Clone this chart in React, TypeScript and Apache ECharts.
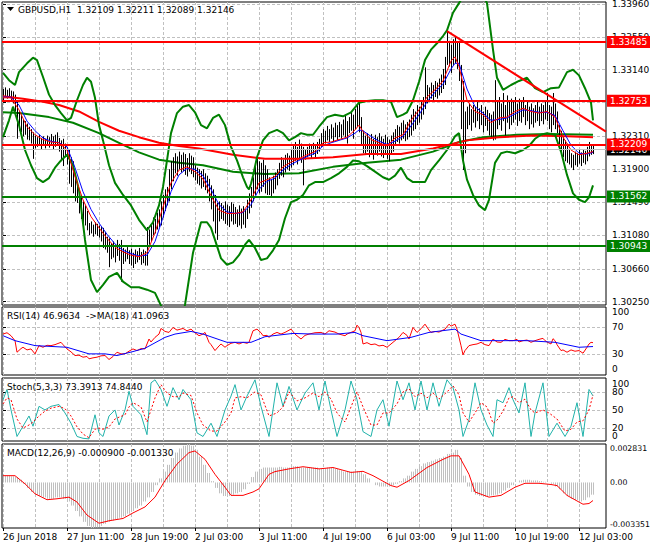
import React, { useEffect, useRef } from "react";
import * as echarts from "echarts";

const FONT = "DejaVu Sans";
const FS = 9;
const RED = "#FF0000";
const GREEN = "#008000";
const BLUE = "#0000FF";
const TEAL = "#20B2AA";
const GRID_C = "#C0C0C0";

// ---- axes / ticks ----
const X_LABEL_POS = [0, 32, 64, 96, 128, 160, 192, 224, 256, 288];
const X_LABEL_TEXT = ["26 Jun 2018", "27 Jun 11:00", "28 Jun 19:00", "2 Jul 03:00", "3 Jul 11:00", "4 Jul 19:00", "6 Jul 03:00", "9 Jul 11:00", "10 Jul 19:00", "12 Jul 03:00"];
const X_GRID = [0, 16, 32, 48, 64, 80, 96, 112, 128, 144, 160, 176, 192, 208, 224, 240, 256, 272, 288];
const PRICE_TICKS = [1.3025, 1.3066, 1.3108, 1.3149, 1.319, 1.3231, 1.3273, 1.3314, 1.3355, 1.3396];
const OSC_MIN = [0];
const OSC_MAX = [100];
const RSI_LEVELS = [30, 70];
const STO_LEVELS = [20, 50, 80];
const MACD_LABELS = [-0.003351, 0, 0.002831];

// ---- levels ----
const SR_RED = [1.33485, 1.32753, 1.32209];
const SR_GREEN = [1.31562, 1.30943];
const BID = 1.32146;
const TREND = [[222, 1.3362], [301.5, 1.3237]];

// ---- H1 bars, pips above 1.3000 (index 0 = 26 Jun 03:00) ----
const HIGH_PIPS = [
  290, 292, 289, 291, 288, 287, 283, 276, 262, 258,
  252, 250, 247, 243, 240, 236, 232, 230, 233, 229,
  231, 228, 232, 230, 234, 231, 233, 236, 229, 226,
  228, 222, 218, 214, 205, 200, 185, 170, 164, 158,
  150, 145, 138, 123, 125, 121, 124, 122, 120, 118,
  117, 112, 106, 104, 98, 100, 96, 102, 97, 102,
  92, 90, 93, 89, 91, 86, 90, 88, 92, 87,
  90, 88, 118, 115, 122, 130, 128, 136, 140, 150,
  158, 165, 168, 190, 200, 205, 210, 206, 212, 208,
  211, 209, 204, 210, 207, 205, 195, 192, 190, 188,
  190, 185, 182, 178, 170, 165, 158, 148, 150, 148,
  145, 150, 146, 144, 149, 147, 143, 140, 145, 141,
  144, 140, 152, 160, 168, 180, 195, 205, 200, 198,
  202, 195, 190, 180, 178, 182, 186, 190, 198, 205,
  202, 208, 210, 207, 215, 220, 224, 218, 227, 222,
  218, 215, 218, 222, 220, 223, 219, 224, 228, 235,
  240, 238, 244, 240, 246, 242, 248, 245, 249, 246,
  252, 258, 250, 255, 262, 258, 265, 270, 274, 255,
  238, 232, 235, 230, 234, 228, 233, 230, 235, 231,
  228, 233, 230, 227, 232, 236, 240, 245, 243, 248,
  251, 246, 249, 252, 258, 265, 262, 270, 268, 275,
  280, 317, 295, 292, 298, 295, 300, 298, 303, 308,
  315, 330, 361, 350, 345, 352, 355, 348, 350, 320,
  300, 262, 268, 272, 265, 270, 268, 274, 266, 270,
  262, 268, 264, 260, 258, 262, 301, 275, 280, 272,
  285, 270, 282, 276, 278, 275, 280, 272, 278, 274,
  280, 270, 276, 268, 272, 266, 270, 275, 268, 272,
  270, 274, 285, 270, 268, 285, 272, 262, 245, 238,
  230, 226, 222, 214, 210, 208, 212, 210, 214, 211,
  215, 213, 218, 224, 220, 221.1
];
const LOW_PIPS = [
  276, 280, 278, 279, 275, 272, 262, 228, 238, 236,
  231, 233, 227, 226, 222, 203, 216, 218, 219, 215,
  219, 216, 220, 217, 219, 214, 218, 220, 212, 200,
  194, 205, 196, 172, 168, 160, 150, 148, 135, 128,
  118, 120, 114, 108, 110, 106, 109, 107, 105, 100,
  92, 90, 86, 68, 78, 80, 74, 82, 76, 50,
  72, 75, 78, 72, 70, 67, 72, 74, 77, 71,
  73, 70, 70, 96, 100, 108, 110, 115, 118, 120,
  130, 138, 145, 150, 165, 175, 185, 182, 190, 186,
  188, 183, 181, 187, 184, 180, 176, 172, 170, 166,
  168, 164, 160, 150, 140, 125, 110, 102, 125, 128,
  126, 122, 120, 118, 125, 121, 122, 118, 120, 116,
  121, 117, 128, 135, 142, 150, 158, 165, 160, 162,
  168, 160, 158, 158, 155, 160, 165, 170, 178, 182,
  180, 186, 190, 188, 192, 195, 200, 196, 202, 198,
  170, 202, 205, 207, 204, 208, 205, 209, 212, 218,
  220, 222, 226, 224, 228, 224, 230, 226, 230, 228,
  232, 230, 222, 235, 238, 228, 240, 243, 236, 220,
  210, 208, 212, 205, 210, 202, 208, 207, 212, 206,
  204, 209, 203, 200, 208, 212, 220, 224, 222, 226,
  228, 225, 227, 230, 232, 238, 240, 245, 248, 252,
  258, 265, 272, 276, 278, 275, 280, 278, 282, 285,
  290, 295, 320, 318, 310, 320, 322, 315, 300, 240,
  189, 210, 240, 245, 238, 248, 242, 250, 240, 245,
  236, 244, 238, 232, 230, 226, 227, 240, 245, 238,
  250, 232, 248, 240, 245, 248, 252, 244, 250, 248,
  255, 245, 250, 240, 246, 242, 248, 250, 244, 250,
  246, 252, 250, 240, 236, 245, 240, 235, 220, 210,
  205, 200, 198, 196, 192, 189, 195, 193, 197, 194,
  198, 196, 200, 206, 208, 208.9
];

// ---- indicator lines on the price pane, [bar index, pips above 1.3000] ----
const BB_UPPER = [[0,310],[3,301],[6,295],[8,311],[12,322],[15,329],[17,326],[20,305],[23,283],[26,270],[29,260],[32,251],[34,254],[37,276],[40,295],[42,304],[44,299],[46,279],[48,245],[50,226],[53,195],[56,173],[60,158],[64,145],[68,127],[72,114],[75,124],[78,145],[80,168],[82,201],[84,235],[87,260],[90,268],[93,270],[96,261],[99,245],[102,241],[105,254],[108,258],[111,245],[114,218],[117,201],[120,180],[122,168],[123,165],[124,172],[125,182],[127,205],[130,226],[133,235],[137,239],[140,235],[143,226],[146,230],[149,235],[152,233],[155,233],[158,243],[162,255],[166,258],[170,256],[174,261],[178,273],[182,275],[186,276],[190,276],[194,274],[197,255],[200,258],[202,261],[205,276],[208,299],[211,326],[214,339],[217,347],[220,356],[222,363],[225,385],[228,397],[232,413],[236,420],[240,407],[242,397],[245,339],[247,304],[250,289],[254,295],[258,300],[262,304],[266,291],[270,286],[274,291],[278,292],[282,311],[285,314],[288,307],[291,291],[294,273],[295,251]];
const BB_LOWER = [[0,230],[3,251],[5,268],[8,245],[11,214],[14,195],[17,179],[20,174],[23,179],[26,192],[29,201],[32,208],[35,195],[38,164],[41,102],[44,52],[47,37],[50,46],[53,56],[57,61],[60,50],[64,43],[68,43],[72,40],[76,36],[80,15],[84,-4],[88,-4],[91,21],[95,86],[99,124],[102,124],[104,117],[106,102],[109,79],[112,71],[115,74],[118,83],[121,96],[123,102],[126,92],[129,77],[132,79],[135,89],[138,102],[141,129],[144,149],[147,152],[150,158],[153,170],[156,174],[160,174],[164,179],[168,185],[172,193],[175,201],[178,200],[182,194],[186,187],[190,180],[193,177],[196,182],[199,192],[202,179],[205,174],[208,174],[211,174],[214,189],[218,201],[222,214],[226,231],[228,235],[230,201],[232,177],[235,158],[238,145],[241,139],[243,152],[246,198],[249,210],[252,212],[256,210],[260,214],[263,219],[266,228],[269,233],[272,235],[276,233],[279,212],[282,183],[285,160],[288,152],[291,149],[293,155],[295,170]];
const MA_SLOW_RED = [[0,281],[10,278],[20,274],[28,270],[38,262],[48,249],[58,238],[68,230],[78,223],[88,219],[98,216],[115,208],[131,203],[148,203],[165,205],[182,209],[199,209],[215,216],[232,226],[248,230],[265,232],[282,231],[295,230]];
const MA_SLOW_GREEN = [[0,261],[8,260],[23,255],[35,248],[48,235],[58,223],[68,211],[78,202],[88,198],[100,195],[115,187],[131,184],[148,185],[165,193],[182,198],[199,202],[215,212],[228,224],[240,230],[257,233],[273,234],[295,233]];
const MA_FAST = [[0,279],[4,279],[8,264],[12,243],[16,233],[20,227],[24,224],[28,223],[32,214],[36,181],[40,152],[44,131],[48,117],[52,104],[56,93],[60,87],[64,83],[68,81],[72,86],[76,111],[80,143],[84,173],[88,189],[92,193],[96,187],[100,178],[104,157],[108,139],[112,135],[116,135],[120,137],[124,152],[128,173],[132,177],[136,181],[140,193],[144,199],[148,203],[152,208],[156,212],[160,223],[164,224],[168,227],[172,230],[176,239],[178,245],[180,237],[184,227],[188,223],[192,219],[196,229],[200,233],[204,251],[208,264],[212,280],[216,289],[220,300],[224,325],[226,330],[228,318],[232,276],[236,262],[240,258],[244,248],[248,254],[252,255],[256,262],[260,266],[264,262],[268,260],[272,262],[276,255],[280,230],[284,214],[288,208],[292,210],[295,212]];
const MA_MID = [[0,280],[4,280],[8,270],[12,250],[16,238],[20,229],[24,225],[28,223],[32,218],[36,192],[40,162],[44,140],[48,123],[52,109],[56,97],[60,89],[64,85],[68,82],[72,83],[76,100],[80,130],[84,162],[88,183],[92,191],[96,190],[100,182],[104,165],[108,146],[112,137],[116,135],[120,136],[124,146],[128,165],[132,175],[136,179],[140,189],[144,196],[148,201],[152,206],[156,210],[160,219],[164,223],[168,226],[172,229],[176,235],[178,239],[180,238],[184,231],[188,225],[192,221],[196,225],[200,231],[204,244],[208,258],[212,274],[216,286],[220,296],[224,315],[226,322],[228,322],[232,290],[236,268],[240,260],[244,251],[248,252],[252,254],[256,259],[260,264],[264,263],[268,261],[272,261],[276,257],[280,238],[284,220],[288,210],[292,209],[295,211]];

// ---- RSI(14) and its MA(18) ----
const RSI = [[0,60],[2,62],[4,57.5],[6,50],[7,32.5],[9,38],[10,40],[12,36],[14,37.5],[16,30],[18,42.5],[20,40],[22,43],[24,42.5],[26,44],[29,47.5],[30,44],[32,37.5],[34,33],[36,27.5],[38,28],[40,25],[42,26],[43,22.5],[45,24],[47,25],[49,27],[51,27.5],[53,21.5],[55,26],[57,32.5],[59,30],[61,30],[63,34],[65,37.5],[67,35],[69,38],[71,37.5],[73,52.5],[74,48],[76,55],[78,60],[79,68.5],[81,64],[83,62.5],[85,70],[87,66],[90,68.5],[92,65],[94,67.5],[96,62],[98,57.5],[100,60],[101,62.5],[103,47.5],[104,44],[106,35],[108,42],[109,45],[111,40],[112,42.5],[114,46],[116,47.5],[118,45],[120,47.5],[122,46],[123,47.5],[125,65],[127,67.5],[129,62],[130,57.5],[132,58],[133,55],[135,60],[137,62.5],[139,60],[141,62.5],[144,67.5],[146,60],[149,52.5],[151,58],[153,60],[156,62],[159,62.5],[161,60],[163,65],[166,63],[168,60],[171,57.5],[172,60],[174,62.5],[176,65],[177,73.5],[178,70],[179,62.5],[180,45],[182,47],[184,44],[186,45],[188,42],[190,43],[192,40],[194,45],[196,50],[198,55],[200,62.5],[202,58],[203,52.5],[205,70],[207,62.5],[209,68],[211,75],[213,66],[214,62.5],[216,64],[218,63],[221,67.5],[223,75],[224,72],[226,75],[227,67.5],[229,42.5],[230,28.5],[231,35],[233,42.5],[235,44],[237,45],[239,47.5],[241,44],[243,42.5],[245,52.5],[247,48],[249,47.5],[251,52],[253,50],[255,50],[257,52],[258,48],[260,50],[262,51],[264,47.5],[266,50],[268,52],[270,53.5],[271,50],[272,48],[274,45],[275,53],[276,50],[277,44],[279,35],[280,36],[282,32.5],[284,36],[286,34],[288,35],[290,31],[292,40],[293,45],[294,47.5],[295,46.96]];
const RSI_MA = [[0,57.5],[6,50],[16,42.5],[32,40],[43,30],[51,30],[57,27.5],[65,33.5],[71,38.5],[81,55],[86,60],[94,64],[100,60],[112,47.5],[124,47.5],[131,56],[145,61],[155,60],[167,60],[176,62.5],[180,57.5],[192,50],[204,55],[213,62.5],[226,67.5],[229,60],[239,50],[251,50],[262,50],[276,47.5],[288,40],[295,41.1]];

// ---- Stochastic(5,3,3) ----
const STOCH_MAIN = [[0,67],[2,84],[4,50],[7,6],[10,23],[13,40],[15,23],[18,56],[21,50],[24,56],[28,59],[31,45],[34,28],[37,6],[40,3],[43,2],[46,42],[48,12],[50,6],[53,40],[56,50],[58,25],[61,50],[63,81],[65,56],[69,42],[72,9],[74,95],[76,100],[79,84],[82,56],[85,87],[88,67],[90,84],[94,67],[97,12],[100,6],[104,28],[107,6],[111,50],[114,73],[116,92],[119,50],[122,73],[126,100],[129,56],[133,6],[137,95],[140,56],[143,89],[147,50],[151,78],[155,95],[158,50],[161,98],[164,50],[167,6],[171,50],[174,98],[177,67],[180,14],[184,6],[187,50],[190,67],[193,23],[197,98],[200,67],[203,95],[206,50],[209,98],[212,50],[215,95],[218,56],[222,100],[225,87],[228,50],[230,6],[233,34],[236,95],[239,50],[242,25],[245,6],[247,67],[250,62],[253,87],[255,67],[258,45],[261,95],[264,6],[266,45],[270,95],[273,6],[277,28],[281,6],[284,23],[287,62],[290,6],[293,84],[295,73.39]];
const STOCH_SIGNAL = [[0,60],[2,70],[4,67],[7,35],[10,20],[13,25],[15,30],[18,40],[21,48],[24,53],[28,56],[31,52],[34,40],[37,22],[40,10],[43,4],[46,18],[48,20],[50,18],[53,22],[56,35],[58,38],[61,42],[63,55],[65,62],[69,55],[72,30],[74,50],[76,70],[79,92],[82,78],[85,72],[88,72],[90,78],[94,74],[97,45],[100,25],[104,15],[107,15],[111,30],[114,45],[116,70],[119,72],[122,70],[126,80],[129,75],[133,40],[137,45],[140,55],[143,80],[147,65],[151,70],[155,78],[158,72],[161,80],[164,68],[167,45],[171,30],[174,55],[177,80],[180,55],[184,25],[187,25],[190,45],[193,45],[197,60],[200,80],[203,85],[206,72],[209,78],[212,70],[215,78],[218,68],[222,80],[225,90],[228,75],[230,45],[233,30],[236,45],[239,62],[242,55],[245,28],[247,33],[250,48],[253,70],[255,72],[258,62],[261,68],[264,50],[266,45],[270,50],[273,45],[277,35],[281,15],[284,18],[287,30],[290,32],[293,50],[295,74.84]];

// ---- MACD(12,26,9): main histogram every 2 bars, in 1e-4 ----
const MACD_STEP = 2;
const MACD_HIST = [
  5, 5, 4.5, 4, 2, -1, -4, -7, -9, -10,
  -11, -12, -12, -11, -11, -12, -14, -17, -21, -25,
  -29, -32, -33.5, -33, -32, -30.5, -29, -28, -27, -26,
  -25, -23, -21, -19, -17, -14, -11, -7, -2, 3,
  8, 13, 18, 22, 25, 27, 28.3, 27, 24, 19,
  13, 7, 1, -4, -8, -10, -10, -9, -8, -7,
  -5, -1, 4, 8, 10, 11, 11, 11, 11, 11.5,
  11, 11, 12, 12, 11, 11, 11, 11, 11, 10,
  10.5, 11, 11, 10, 9, 8, 8, 8, 8.5, 8,
  6, 3, 0, -2, -3, -3, -3, -2, -1, 1,
  3, 5, 8, 10, 12, 14, 15, 16, 17, 18,
  19, 21, 22, 24, 18, 5, -3, -7, -9, -10,
  -10.5, -10, -9.5, -9, -8, -6, -4, -2, 0, 1.5,
  2, 2, 1.5, 1.5, 1, 0.5, 0, -1, -3, -5,
  -8, -10, -12, -13, -14, -13, -11, -9
];
const MACD_SIGNAL = [[0,5],[6,5],[11,-1],[16,-8.3],[22,-12.7],[27,-12],[33,-10.8],[37,-14.4],[42,-24],[48,-30],[53,-28.2],[60,-26.5],[65,-22.4],[71,-18],[76,-10.8],[81,1.4],[87,13.5],[93,22],[96,23.2],[101,17],[106,6],[111,-3.5],[114,-9.5],[120,-9.5],[125,-7],[128,-4.7],[133,6],[136,8],[143,10],[150,11.6],[158,10],[165,11],[174,7.4],[180,8.2],[185,5],[194,-2.3],[197,-3.5],[203,1.4],[212,11],[220,17],[224,19.6],[228,19.6],[233,6],[236,-7],[243,-10.8],[249,-9.5],[256,-3.5],[261,-0.6],[268,-0.6],[274,-1.5],[277,-2.3],[282,-9.5],[288,-14.4],[290,-16],[293,-15.5],[295,-13.3]];

const TITLE_MAIN = "GBPUSD,H1  1.32109 1.32211 1.32089 1.32146";
const TITLE_RSI = "RSI(14) 46.9634  ->MA(18) 41.0963";
const TITLE_STO = "Stoch(5,3,3) 73.3913 74.8440";
const TITLE_MACD = "MACD(12,26,9) -0.000900 -0.001330";

const toPrice = (p: number) => Math.round((1.3 + p / 10000) * 1e6) / 1e6;
const pipsLine = (arr: number[][]) => arr.map(([i, p]) => [i, toPrice(p)]);

const RSI_MIN = -2, RSI_MAX = 101;
const STO_MIN = -1.5, STO_MAX = 103;

function tText(id: string, x: number, y: number, text: string, vAlign: string = "middle") {
  return {
    id, type: "text", x, y, z: 100, silent: true,
    style: { text, fill: "#000", fontFamily: FONT, fontSize: FS, verticalAlign: vAlign, align: "left" },
  };
}

function buildOption() {
  const txt = { color: "#000", fontFamily: FONT, fontSize: FS };
  const dashed = { show: true, lineStyle: { color: GRID_C, width: 1, type: [3, 2] } };
  const X_MIN = -0.5, X_MAX = 301.5;

  const grids = [
    { top: 2, height: 303 },
    { top: 307, height: 68 },
    { top: 378, height: 63 },
    { top: 444, height: 84 },
  ].map((g) => ({
    ...g, left: 2, right: 44, show: true, borderColor: "#000", borderWidth: 1,
    backgroundColor: "#fff", containLabel: false, outerBoundsMode: "none",
  }));

  const xAxes: any[] = [0, 1, 2, 3].map((gi) => ({
    type: "value", gridIndex: gi, min: X_MIN, max: X_MAX,
    axisLine: { show: false },
    axisTick: { show: false, customValues: X_GRID },
    splitLine: dashed,
    axisLabel: gi === 3
      ? { ...txt, show: true, customValues: X_LABEL_POS, align: "left", margin: 4,
          formatter: (v: number) => { const k = X_LABEL_POS.indexOf(Math.round(v)); return k >= 0 ? X_LABEL_TEXT[k] : ""; } }
      : { show: false },
  }));
  // small tick marks under the time labels
  xAxes.push({
    type: "value", gridIndex: 3, min: X_MIN, max: X_MAX, position: "bottom",
    axisLine: { show: false }, splitLine: { show: false }, axisLabel: { show: false },
    axisTick: { show: true, customValues: X_LABEL_POS, length: 3, lineStyle: { color: "#000" } },
  });

  const yBase = (gi: number, min: number, max: number, labels: number[], ticks: number[], fmt: (v: number) => string, grid: boolean, vAlign: any, fs: number = FS, margin: number = 6) => ({
    type: "value", gridIndex: gi, position: "right", min, max,
    axisLine: { show: false },
    axisTick: { show: ticks.length > 0, customValues: ticks, length: 3, lineStyle: { color: "#000" } },
    axisLabel: { ...txt, fontSize: fs, customValues: labels, margin, formatter: fmt,
      showMinLabel: true, showMaxLabel: true, hideOverlap: false,
      ...(vAlign === "edges" ? { verticalAlignMinLabel: "bottom", verticalAlignMaxLabel: "top" } : vAlign ? { verticalAlign: vAlign } : {}) },
    splitLine: grid ? dashed : { show: false },
  });

  const num = (v: number) => String(Math.round(v));
  const yAxes = [
    yBase(0, 1.30209, 1.33984, PRICE_TICKS, PRICE_TICKS, (v) => v.toFixed(5), true, null),
    yBase(1, RSI_MIN, RSI_MAX, RSI_LEVELS, RSI_LEVELS, num, true, null),
    yBase(2, STO_MIN, STO_MAX, STO_LEVELS, STO_LEVELS, num, true, null),
    yBase(3, -0.003351, 0.002831, MACD_LABELS, [], (v) => (Math.abs(v) < 1e-9 ? "0.00" : v.toFixed(6)), false, "edges", 7.8, 4),
    // fixed 100 / 0 bounds of the oscillator windows (RSI 0 is placed after init)
    yBase(1, RSI_MIN, RSI_MAX, OSC_MAX, [], num, false, "top"),
    yBase(2, STO_MIN, STO_MAX, OSC_MAX, [], num, false, "top"),
    yBase(2, STO_MIN, STO_MAX, OSC_MIN, [], num, false, "bottom"),
  ];

  const line = (data: any[], color: string, width: number, gi: number, extra: any = {}) => ({
    type: "line", data, xAxisIndex: gi, yAxisIndex: gi, showSymbol: false, symbol: "none",
    silent: true, animation: false, lineStyle: { color, width }, itemStyle: { color }, z: 3, ...extra,
  });

  const lvlLabel = (value: number, bg: string) => ({
    show: true, position: "end", formatter: value.toFixed(5), color: "#fff", backgroundColor: bg,
    padding: [2, 3, 1, 3], fontFamily: FONT, fontSize: FS, distance: 1,
  });

  const bars = {
    type: "custom", xAxisIndex: 0, yAxisIndex: 0, silent: true, animation: false, z: 2,
    data: HIGH_PIPS.map((h, i) => [i, toPrice(h), toPrice(LOW_PIPS[i])]),
    encode: { x: 0, y: [1, 2] },
    renderItem: (params: any, api: any) => {
      const i = api.value(0);
      const a = api.coord([i, api.value(1)]);
      const b = api.coord([i, api.value(2)]);
      const x = Math.round(a[0]) + 0.5;
      return { type: "line", shape: { x1: x, y1: a[1], x2: x, y2: b[1] }, style: { stroke: "#000", lineWidth: 1 } };
    },
  };

  const hist = {
    type: "custom", xAxisIndex: 3, yAxisIndex: 3, silent: true, animation: false, z: 2,
    data: MACD_HIST.map((v, k) => [k * MACD_STEP, v / 10000]),
    encode: { x: 0, y: 1 },
    renderItem: (params: any, api: any) => {
      const i = api.value(0);
      const p0 = api.coord([i, 0]);
      const p1 = api.coord([i, api.value(1)]);
      const x = Math.round(p0[0]) + 0.5;
      const st = { stroke: GRID_C, lineWidth: 1 };
      return { type: "group", children: [
        { type: "line", shape: { x1: x, y1: p0[1], x2: x, y2: p1[1] }, style: st },
        { type: "line", shape: { x1: x + 2, y1: p0[1], x2: x + 2, y2: p1[1] }, style: st },
      ] };
    },
  };

  const series: any[] = [
    line(pipsLine(MA_SLOW_GREEN), GREEN, 2, 0, {
      z: 1,
      markLine: {
        symbol: ["none", "none"], silent: true, animation: false, precision: 5,
        data: [{ yAxis: BID, lineStyle: { color: GRID_C, width: 1, type: "solid" }, label: lvlLabel(BID, "#000") }],
      },
    }),
    bars,
    line(pipsLine(MA_SLOW_RED), RED, 2, 0),
    line(pipsLine(BB_UPPER), GREEN, 2, 0),
    line(pipsLine(BB_LOWER), GREEN, 2, 0),
    line(pipsLine(MA_MID), BLUE, 1, 0, { z: 4 }),
    line(pipsLine(MA_FAST), RED, 1, 0, { z: 4 }),
    line(TREND, RED, 2, 0, {
      z: 5,
      markLine: {
        symbol: ["none", "none"], silent: true, animation: false, precision: 5,
        data: [
          ...SR_RED.map((v) => ({ yAxis: v, lineStyle: { color: RED, width: 2, type: "solid" }, label: lvlLabel(v, RED) })),
          ...SR_GREEN.map((v) => ({ yAxis: v, lineStyle: { color: GREEN, width: 2, type: "solid" }, label: lvlLabel(v, GREEN) })),
        ],
      },
    }),
    line(RSI, RED, 1, 1),
    line(RSI_MA, BLUE, 1, 1),
    line(STOCH_MAIN, TEAL, 1, 2),
    line(STOCH_SIGNAL, RED, 1, 2, { lineStyle: { color: RED, width: 1, type: [2, 2] } }),
    hist,
    line(MACD_SIGNAL.map(([i, v]) => [i, v / 10000]), RED, 1, 3),
  ];

  return {
    animation: false,
    backgroundColor: "#fff",
    grid: grids,
    xAxis: xAxes,
    yAxis: yAxes,
    series,
    graphic: [
      { id: "tri", type: "polygon", z: 100, silent: true, shape: { points: [[7, 7], [14, 7], [10.5, 11]] }, style: { fill: "#000" } },
      tText("tMain", 18, 10, TITLE_MAIN),
      tText("tRsi", 7, 316, TITLE_RSI),
      tText("tSto", 7, 387, TITLE_STO),
      tText("tMacd", 7, 453, TITLE_MACD),
    ],
  };
}

export default function App() {
  const ref = useRef<HTMLDivElement>(null);
  useEffect(() => {
    if (!ref.current) return;
    const chart = echarts.init(ref.current, null, { renderer: "svg", width: 650, height: 550 });
    const option: any = buildOption();
    chart.setOption(option);
    // RSI window "0" bound label, placed through the RSI axis scale
    const p = chart.convertToPixel({ xAxisIndex: 1, yAxisIndex: 1 } as any, [0, OSC_MIN[0]]) as any;
    if (p && isFinite(p[1])) {
      chart.setOption({ graphic: [...option.graphic, tText("rsi0", 612, p[1], String(OSC_MIN[0]), "bottom")] });
    }
    return () => chart.dispose();
  }, []);
  return <div ref={ref} style={{ position: "absolute", left: 0, top: 0, width: 650, height: 550, background: "#fff" }} />;
}
